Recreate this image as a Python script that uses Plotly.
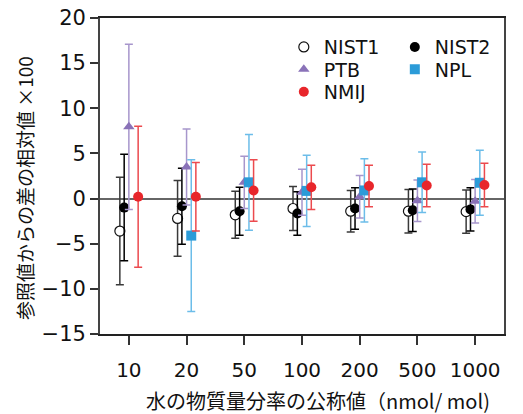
import plotly.graph_objects as go

labels = ["10", "20", "50", "100", "200", "500", "1000"]

nist1 = [-3.6, -2.2, -1.8, -1.1, -1.4, -1.4, -1.45]
nist1_err = [5.95, 4.2, 2.6, 2.45, 2.3, 2.4, 2.4]
nist2 = [-1.0, -0.85, -1.4, -1.65, -1.1, -1.3, -1.2]
nist2_err = [5.9, 4.2, 2.65, 2.4, 2.3, 2.35, 2.4]
ptb = [7.95, 3.5, 1.8, 0.7, 0.2, -0.25, -0.3]
ptb_err = [9.15, 4.2, 2.9, 2.55, 2.35, 2.3, 2.4]
npl = [None, -4.1, 1.8, 0.85, 0.9, 1.8, 1.75]
npl_err = [None, 8.4, 5.3, 3.95, 3.5, 3.35, 3.6]
nmij = [0.2, 0.2, 0.9, 1.25, 1.4, 1.45, 1.5]
nmij_err = [7.8, 3.8, 3.4, 2.45, 2.3, 2.35, 2.4]

idx = list(range(len(labels)))

series = [
    # name, values, errors, offset, symbol, fill, line color, bar color, legend
    ("NIST1", nist1, nist1_err, -0.156, "circle", "white", "#111111", "#3a3a3a", "legend"),
    ("NIST2", nist2, nist2_err, -0.081, "circle", "#000000", "#000000", "#000000", "legend"),
    ("PTB", ptb, ptb_err, 0.0, "triangle-up", "#8a72b8", "#8a72b8", "#a796cc", "legend2"),
    ("NPL", npl, npl_err, 0.081, "square", "#2b9bd8", "#2b9bd8", "#6cbde9", "legend2"),
    ("NMIJ", nmij, nmij_err, 0.161, "circle", "#e8262b", "#e8262b", "#ec4a4e", "legend3"),
]

fig = go.Figure()
for name, vals, errs, off, sym, fill, lc, bc, leg in series:
    fig.add_trace(go.Scatter(
        x=[i + off for i in idx],
        y=vals,
        name=name,
        mode="markers",
        marker=dict(symbol=sym, size=10, color=fill,
                    line=dict(color=lc, width=1.2 if name == "NIST1" else 0)),
        error_y=dict(type="data", array=errs, visible=True,
                     color=bc, thickness=1.5, width=4),
        legend=leg,
    ))

leg_common = dict(orientation="h", x=0.455, xanchor="left", yanchor="middle",
                  bgcolor="rgba(0,0,0,0)", entrywidth=66, itemsizing="trace",
                  font=dict(family="DejaVu Sans", size=19, color="#111111"))

fig.update_layout(
    template="none",
    width=523, height=414,
    margin=dict(l=100, r=19, t=18, b=80, autoexpand=False),
    paper_bgcolor="white", plot_bgcolor="white",
    showlegend=True,
    legend=dict(y=0.908, **leg_common),
    legend2=dict(y=0.837, **leg_common),
    legend3=dict(y=0.766, **leg_common),
    xaxis=dict(
        range=[-0.5, 6.5], tickmode="array", tickvals=idx, ticktext=labels,
        ticks="outside", ticklen=9, tickwidth=1.5, tickcolor="#333",
        showgrid=False, zeroline=False, automargin=False,
        showline=True, linecolor="#222", linewidth=1.5, mirror=True,
        tickfont=dict(family="DejaVu Sans", size=20, color="#111"),
        ticklabelstandoff=8, ticklabeloverflow="allow",
    ),
    yaxis=dict(
        range=[-15, 20], tickmode="array", tickvals=[-15, -10, -5, 0, 5, 10, 15, 20],
        ticks="outside", ticklen=8, tickwidth=1.5, tickcolor="#333",
        showgrid=False, zeroline=True, zerolinecolor="#666", zerolinewidth=2,
        showline=True, linecolor="#444", linewidth=1.8, mirror=True, automargin=False,
        tickfont=dict(family="DejaVu Sans", size=21, color="#111"),
        ticklabeloverflow="allow",
    ),
    annotations=[
        dict(text="水の物質量分率の公称値（nmol/ mol)", xref="paper", yref="paper",
             x=0.54, y=-0.212, xanchor="center", yanchor="middle", showarrow=False,
             font=dict(family="Noto Sans CJK JP", size=20, color="#111")),
        dict(text="参照値からの差の相対値 ×100", xref="paper", yref="paper",
             x=-0.188, y=0.462, xanchor="center", yanchor="middle", showarrow=False,
             textangle=-90,
             font=dict(family="Noto Sans CJK JP", size=19, color="#111")),
    ],
)

fig.write_html("out.html", config={"displayModeBar": False},
               post_script="document.body.style.margin='0';")
